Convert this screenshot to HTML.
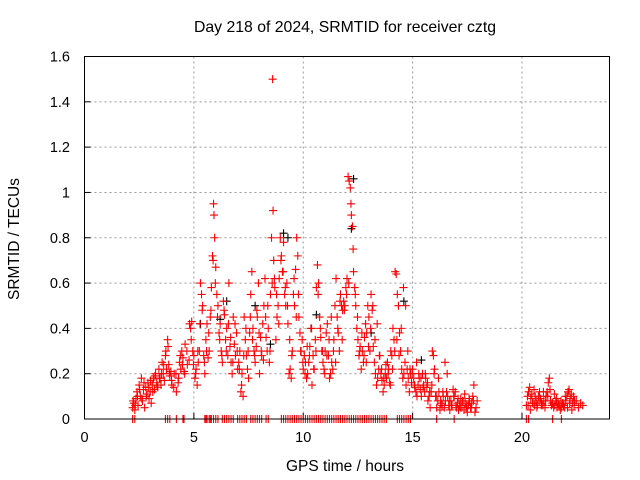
<!DOCTYPE html>
<html><head><meta charset="utf-8">
<style>
html,body{margin:0;padding:0;background:#fff;}
svg{display:block;font-family:"Liberation Sans",sans-serif;}
</style></head>
<body>
<svg id="chart" width="640" height="480" viewBox="0 0 640 480">
<text x="345" y="32" font-size="15.8" text-anchor="middle" fill="#000">Day 218 of 2024, SRMTID for receiver cztg</text>
<text x="345" y="471" font-size="15.5" text-anchor="middle" fill="#000">GPS time / hours</text>
<text transform="translate(19,239) rotate(-90)" font-size="15.5" text-anchor="middle" fill="#000">SRMTID / TECUs</text>
<g id="grid"></g>
<g id="ticks"></g>
<g id="marks"></g>
<rect x="84.5" y="56.5" width="525" height="362.5" fill="none" stroke="#000" stroke-width="1"/>
</svg>
<script>
const xTicks=[0,5,10,15,20];
const yTicks=[0,0.2,0.4,0.6,0.8,1,1.2,1.4,1.6];
const yTickLabels=["0","0.2","0.4","0.6","0.8","1","1.2","1.4","1.6"];
const redTimes=[2.2,2.25,2.3,2.35,2.4,2.45,2.5,2.55,2.6,2.65,2.7,2.75,2.8,2.85,2.9,2.95,3.0,3.05,3.1,3.15,3.2,3.25,3.3,3.35,3.4,3.45,3.5,3.55,3.6,3.65,3.7,3.75,3.8,3.82,3.85,3.9,3.95,4.0,4.1,4.2,4.3,4.35,4.4,4.45,4.5,4.55,4.6,4.7,4.8,4.85,4.9,4.95,5.0,5.05,5.1,5.15,5.2,5.25,5.3,5.35,5.4,5.45,5.5,5.55,5.6,5.65,5.7,5.75,5.8,5.85,5.9,5.92,5.95,6.0,6.05,6.1,6.15,6.2,6.25,6.3,6.35,6.4,6.45,6.5,6.55,6.6,6.65,6.7,6.75,6.8,6.85,6.9,6.95,7.0,7.05,7.1,7.15,7.2,7.25,7.3,7.35,7.4,7.45,7.5,7.55,7.6,7.65,7.7,7.75,7.8,7.85,7.9,7.95,8.0,8.05,8.1,8.15,8.2,8.25,8.3,8.35,8.4,8.45,8.5,8.55,8.58,8.6,8.62,8.65,8.7,8.75,8.8,8.85,8.9,8.95,9.0,9.05,9.1,9.15,9.2,9.25,9.3,9.35,9.4,9.45,9.5,9.55,9.6,9.65,9.7,9.75,9.8,9.85,9.9,9.95,10.0,10.05,10.1,10.15,10.2,10.25,10.3,10.35,10.4,10.45,10.5,10.55,10.6,10.65,10.7,10.75,10.8,10.85,10.9,10.95,11.0,11.05,11.1,11.15,11.2,11.25,11.3,11.35,11.4,11.45,11.5,11.55,11.6,11.65,11.7,11.75,11.8,11.85,11.9,11.95,12.0,12.05,12.1,12.15,12.2,12.25,12.3,12.35,12.4,12.45,12.5,12.55,12.6,12.65,12.7,12.75,12.8,12.85,12.9,12.95,13.0,13.05,13.1,13.15,13.2,13.25,13.3,13.35,13.4,13.45,13.5,13.55,13.6,13.65,13.7,13.75,13.8,13.85,13.9,13.95,14.0,14.05,14.1,14.15,14.2,14.25,14.3,14.35,14.4,14.45,14.5,14.55,14.6,14.65,14.7,14.75,14.8,14.85,14.9,14.95,15.0,15.05,15.1,15.15,15.2,15.25,15.3,15.35,15.4,15.45,15.5,15.55,15.6,15.65,15.7,15.75,15.8,15.85,15.9,15.95,16.0,16.05,16.1,16.15,16.2,16.25,16.3,16.35,16.4,16.45,16.5,16.55,16.6,16.65,16.7,16.75,16.8,16.85,16.9,16.95,17.0,17.05,17.1,17.15,17.2,17.25,17.3,17.35,17.4,17.45,17.5,17.55,17.6,17.65,17.7,17.75,17.8,17.85,17.9,17.95,20.2,20.25,20.3,20.35,20.4,20.45,20.5,20.55,20.6,20.65,20.7,20.75,20.8,20.85,20.9,20.95,21.0,21.05,21.1,21.15,21.2,21.25,21.3,21.35,21.4,21.45,21.5,21.55,21.6,21.65,21.7,21.75,21.8,21.85,21.9,21.95,22.0,22.05,22.1,22.15,22.2,22.25,22.3,22.35,22.4,22.45,22.5,22.55,22.6,22.65,22.7];
const redValues=[0.05,0.07,0.04,0.09,0.12,0.06,0.15,0.1,0.18,0.08,0.13,0.05,0.14,0.11,0.16,0.09,0.12,0.07,0.15,0.18,0.13,0.2,0.16,0.14,0.22,0.18,0.15,0.25,0.2,0.17,0.28,0.22,0.35,0.32,0.24,0.19,0.21,0.15,0.2,0.12,0.18,0.25,0.22,0.3,0.27,0.21,0.33,0.24,0.42,0.4,0.43,0.3,0.28,0.18,0.22,0.15,0.25,0.3,0.6,0.55,0.5,0.28,0.2,0.35,0.42,0.27,0.3,0.45,0.58,0.72,0.95,0.9,0.8,0.67,0.55,0.5,0.38,0.42,0.3,0.25,0.52,0.46,0.35,0.4,0.28,0.6,0.32,0.25,0.2,0.45,0.33,0.28,0.38,0.22,0.25,0.3,0.12,0.2,0.1,0.45,0.35,0.28,0.22,0.18,0.38,0.55,0.65,0.4,0.3,0.25,0.32,0.45,0.6,0.2,0.36,0.28,0.42,0.5,0.62,0.36,0.3,0.4,0.25,0.55,0.8,0.6,1.5,0.92,0.7,0.58,0.35,0.45,0.5,0.62,0.8,0.72,0.65,0.78,0.55,0.5,0.6,0.42,0.2,0.22,0.18,0.3,0.55,0.5,0.66,0.8,0.72,0.45,0.38,0.3,0.35,0.22,0.28,0.25,0.18,0.2,0.25,0.32,0.4,0.15,0.28,0.22,0.35,0.58,0.68,0.6,0.45,0.36,0.3,0.25,0.22,0.3,0.38,0.42,0.28,0.18,0.2,0.25,0.22,0.35,0.5,0.62,0.45,0.38,0.3,0.55,0.5,0.48,0.52,0.5,0.58,0.62,1.07,1.05,1.02,0.9,0.85,0.65,0.58,0.5,0.4,0.35,0.28,0.32,0.22,0.3,0.25,0.36,0.42,0.38,0.5,0.45,0.3,0.55,0.48,0.32,0.25,0.2,0.15,0.18,0.22,0.28,0.2,0.17,0.12,0.15,0.2,0.18,0.25,0.22,0.16,0.3,0.28,0.4,0.35,0.65,0.64,0.55,0.5,0.38,0.3,0.22,0.18,0.2,0.25,0.15,0.22,0.18,0.12,0.2,0.16,0.22,0.18,0.14,0.12,0.1,0.15,0.18,0.13,0.1,0.2,0.15,0.12,0.18,0.14,0.08,0.1,0.05,0.12,0.3,0.28,0.22,0.1,0.05,0.08,0.12,0.04,0.07,0.06,0.1,0.05,0.08,0.12,0.1,0.06,0.04,0.08,0.06,0.13,0.1,0.12,0.05,0.07,0.04,0.06,0.09,0.05,0.08,0.04,0.07,0.05,0.03,0.06,0.08,0.05,0.07,0.1,0.15,0.03,0.05,0.08,0.06,0.1,0.12,0.14,0.09,0.11,0.07,0.13,0.1,0.08,0.06,0.1,0.12,0.09,0.07,0.06,0.08,0.05,0.1,0.12,0.16,0.18,0.08,0.06,0.07,0.05,0.06,0.08,0.05,0.07,0.06,0.04,0.05,0.07,0.06,0.05,0.08,0.1,0.12,0.13,0.09,0.11,0.07,0.1,0.08];
const redTimesB=[2.22,2.32,2.42,2.52,2.62,2.72,2.82,2.92,3.02,3.12,3.22,3.32,3.42,3.52,3.62,3.72,3.88,3.98,4.08,4.18,4.28,4.38,4.48,4.58,4.68,4.78,4.88,4.98,5.08,5.18,5.28,5.38,5.48,5.58,5.68,5.78,5.88,5.98,6.08,6.18,6.28,6.38,6.48,6.58,6.68,6.78,6.88,6.98,7.08,7.18,7.28,7.38,7.48,7.58,7.68,7.78,7.88,7.98,8.08,8.18,8.28,8.38,8.48,8.68,8.78,8.88,8.98,9.08,9.18,9.28,9.38,9.48,9.58,9.68,9.78,9.88,9.98,10.08,10.18,10.28,10.38,10.48,10.58,10.68,10.78,10.88,10.98,11.08,11.18,11.28,11.38,11.48,11.58,11.68,11.78,11.88,11.98,12.08,12.18,12.28,12.38,12.48,12.58,12.68,12.78,12.88,12.98,13.08,13.18,13.28,13.38,13.48,13.58,13.68,13.78,13.88,13.98,14.08,14.18,14.28,14.38,14.48,14.58,14.68,14.78,14.88,14.98,15.08,15.18,15.28,15.38,15.48,15.58,15.68,15.78,15.88,15.98,16.08,16.18,16.28,16.38,16.48,16.58,16.68,16.78,16.88,16.98,17.08,17.18,17.28,17.38,17.48,17.58,17.68,17.78,20.28,20.38,20.48,20.58,20.68,20.78,20.88,20.98,21.08,21.18,21.28,21.38,21.48,21.58,21.68,21.78,21.88,21.98,22.08,22.18,22.28,22.38,22.48,22.58,22.68,22.78];
const redValuesB=[0.08,0.06,0.1,0.13,0.09,0.16,0.1,0.14,0.17,0.12,0.19,0.15,0.18,0.2,0.24,0.3,0.2,0.17,0.14,0.2,0.16,0.28,0.24,0.2,0.3,0.26,0.35,0.24,0.2,0.3,0.42,0.48,0.25,0.3,0.38,0.48,0.7,0.6,0.45,0.35,0.28,0.48,0.3,0.42,0.36,0.25,0.42,0.3,0.22,0.15,0.28,0.4,0.3,0.45,0.35,0.28,0.48,0.38,0.3,0.26,0.45,0.5,0.3,0.62,0.55,0.42,0.7,0.65,0.58,0.5,0.35,0.28,0.62,0.45,0.55,0.3,0.25,0.2,0.32,0.28,0.4,0.22,0.3,0.55,0.4,0.3,0.2,0.28,0.35,0.45,0.3,0.25,0.4,0.52,0.35,0.48,0.55,0.6,0.95,0.75,0.55,0.45,0.3,0.38,0.28,0.25,0.32,0.4,0.5,0.35,0.42,0.28,0.22,0.18,0.24,0.2,0.15,0.22,0.3,0.35,0.28,0.4,0.58,0.5,0.3,0.22,0.2,0.15,0.25,0.2,0.18,0.14,0.2,0.16,0.12,0.15,0.2,0.1,0.18,0.08,0.12,0.25,0.2,0.08,0.06,0.1,0.06,0.09,0.05,0.08,0.11,0.06,0.09,0.05,0.08,0.06,0.04,0.07,0.06,0.05,0.08,0.06,0.12,0.08,0.1,0.13,0.07,0.11,0.09,0.06,0.08,0.07,0.1,0.05,0.07,0.04,0.06,0.08,0.05,0.07,0.06,0.09,0.11,0.08,0.12,0.07];
const blackTimes=[5.3,6.2,6.5,7.8,8.5,9.1,9.3,10.6,12.2,12.3,13.1,14.6,15.4];
const blackValues=[0.42,0.44,0.52,0.5,0.33,0.82,0.8,0.46,0.84,1.06,0.38,0.52,0.26];
const zeroTimes=[2.2,2.3,3.7,3.8,3.9,4.2,4.5,4.55,5.5,5.55,5.6,5.7,5.75,5.8,5.9,6.0,6.1,6.3,6.4,6.5,6.6,6.7,6.8,7.0,7.1,7.2,7.3,7.4,7.6,7.7,7.8,7.9,8.0,8.1,8.3,8.4,9.0,9.1,9.2,9.3,9.4,9.5,9.6,9.7,9.8,9.9,10.0,10.1,10.2,10.3,10.4,10.5,10.6,10.7,10.8,10.9,11.0,11.1,11.2,11.3,11.4,11.5,11.6,11.7,11.8,11.9,12.0,12.1,12.2,12.3,12.4,12.5,12.6,12.7,12.8,12.9,13.0,13.1,13.2,13.3,13.4,13.5,13.6,13.7,13.8,14.3,14.4,14.5,14.6,14.7,14.8,14.9,16.1,16.9,20.2,20.3,21.4,21.8];

const NS="http://www.w3.org/2000/svg";
const X0=84.5,X1=609.5,Y0=419,Y1=56.5,XMAX=24,YMAX=1.6;
function xs(t){return X0+(X1-X0)*t/XMAX;}
function ys(v){return Y0-(Y0-Y1)*v/YMAX;}
const grid=document.getElementById('grid'),ticks=document.getElementById('ticks'),marks=document.getElementById('marks');
function mk(tag,attrs,parent){const e=document.createElementNS(NS,tag);for(const k in attrs)e.setAttribute(k,attrs[k]);parent.appendChild(e);return e;}
xTicks.forEach(t=>{
  const x=xs(t);
  if(t>0){const g=mk('line',{x1:x,x2:x,y1:Y1,y2:Y0,stroke:'#999','stroke-dasharray':'2,3'},grid);
  
  }
  const tk=mk('line',{x1:x,x2:x,y1:Y0,y2:Y0-6,stroke:'#000'},ticks);
  
  
  const tx=mk('text',{x:x,y:442,'font-size':14.5,'text-anchor':'middle'},ticks);
  tx.textContent=String(t);
  
  
});
yTicks.forEach((v,i)=>{
  const y=ys(v);
  if(v>0&&v<YMAX){const g=mk('line',{x1:X0,x2:X1,y1:y,y2:y,stroke:'#999','stroke-dasharray':'2,3'},grid);
  
  }
  const tk=mk('line',{x1:X0,x2:X0+6,y1:y,y2:y,stroke:'#000'},ticks);
  
  
  const tx=mk('text',{x:70,y:y+5,'font-size':14.5,'text-anchor':'end'},ticks);
  tx.textContent=yTickLabels[i];
  
  
});
function plus(t,v,color,name){
  const x=xs(t),y=ys(v);
  const p=mk('path',{d:`M${x-4},${y}H${x+4}M${x},${y-4}V${y+4}`,stroke:color,'stroke-width':1.1,fill:'none'},marks);
  
  
}
blackTimes.forEach((t,i)=>plus(t,blackValues[i],'#000','black-point'));
redTimes.forEach((t,i)=>plus(t,redValues[i],'#f00','red-point'));
redTimesB.forEach((t,i)=>plus(t,redValuesB[i],'#f00','red-point'));
zeroTimes.forEach(t=>plus(t,0,'#f00','zero-point'));
</script>
</body></html>
